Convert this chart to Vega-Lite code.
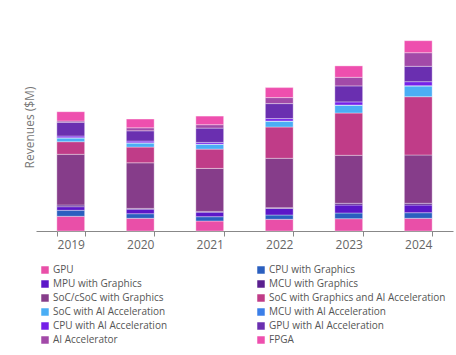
{
  "$schema": "https://vega.github.io/schema/vega-lite/v6.json",
  "width": 417,
  "height": 208,
  "autosize": {"type": "none"},
  "padding": {"left": 36, "top": 23, "right": 3, "bottom": 124},
  "background": "white",
  "config": {
    "view": {"stroke": null},
    "font": "Open Sans"
  },
  "data": {
    "values": [
      {"year": "2019", "type": "GPU", "rev": 14.7},
      {"year": "2019", "type": "CPU with Graphics", "rev": 6},
      {"year": "2019", "type": "MPU with Graphics", "rev": 3.6},
      {"year": "2019", "type": "MCU with Graphics", "rev": 1.7},
      {"year": "2019", "type": "SoC/cSoC with Graphics", "rev": 50.7},
      {"year": "2019", "type": "SoC with Graphics and AI Acceleration", "rev": 12.6},
      {"year": "2019", "type": "SoC with AI Acceleration", "rev": 3.6},
      {"year": "2019", "type": "MCU with AI Acceleration", "rev": 0.4},
      {"year": "2019", "type": "CPU with AI Acceleration", "rev": 1.7},
      {"year": "2019", "type": "GPU with AI Acceleration", "rev": 13.7},
      {"year": "2019", "type": "AI Accelerator", "rev": 1.3},
      {"year": "2019", "type": "FPGA", "rev": 9.3},
      {"year": "2020", "type": "GPU", "rev": 12.7},
      {"year": "2020", "type": "CPU with Graphics", "rev": 4.6},
      {"year": "2020", "type": "MPU with Graphics", "rev": 4.5},
      {"year": "2020", "type": "MCU with Graphics", "rev": 0.8},
      {"year": "2020", "type": "SoC/cSoC with Graphics", "rev": 45.6},
      {"year": "2020", "type": "SoC with Graphics and AI Acceleration", "rev": 15.7},
      {"year": "2020", "type": "SoC with AI Acceleration", "rev": 4.0},
      {"year": "2020", "type": "MCU with AI Acceleration", "rev": 0.3},
      {"year": "2020", "type": "CPU with AI Acceleration", "rev": 1.7},
      {"year": "2020", "type": "GPU with AI Acceleration", "rev": 10.3},
      {"year": "2020", "type": "AI Accelerator", "rev": 3.0},
      {"year": "2020", "type": "FPGA", "rev": 8.7},
      {"year": "2021", "type": "GPU", "rev": 10},
      {"year": "2021", "type": "CPU with Graphics", "rev": 4.3},
      {"year": "2021", "type": "MPU with Graphics", "rev": 4.5},
      {"year": "2021", "type": "MCU with Graphics", "rev": 0.8},
      {"year": "2021", "type": "SoC/cSoC with Graphics", "rev": 43},
      {"year": "2021", "type": "SoC with Graphics and AI Acceleration", "rev": 19.3},
      {"year": "2021", "type": "SoC with AI Acceleration", "rev": 4.7},
      {"year": "2021", "type": "MCU with AI Acceleration", "rev": 0.3},
      {"year": "2021", "type": "CPU with AI Acceleration", "rev": 1.7},
      {"year": "2021", "type": "GPU with AI Acceleration", "rev": 14.3},
      {"year": "2021", "type": "AI Accelerator", "rev": 3.4},
      {"year": "2021", "type": "FPGA", "rev": 8.6},
      {"year": "2022", "type": "GPU", "rev": 11.7},
      {"year": "2022", "type": "CPU with Graphics", "rev": 4.3},
      {"year": "2022", "type": "MPU with Graphics", "rev": 6.5},
      {"year": "2022", "type": "MCU with Graphics", "rev": 0.8},
      {"year": "2022", "type": "SoC/cSoC with Graphics", "rev": 49.4},
      {"year": "2022", "type": "SoC with Graphics and AI Acceleration", "rev": 31.3},
      {"year": "2022", "type": "SoC with AI Acceleration", "rev": 5.7},
      {"year": "2022", "type": "MCU with AI Acceleration", "rev": 0.3},
      {"year": "2022", "type": "CPU with AI Acceleration", "rev": 2.4},
      {"year": "2022", "type": "GPU with AI Acceleration", "rev": 15},
      {"year": "2022", "type": "AI Accelerator", "rev": 6},
      {"year": "2022", "type": "FPGA", "rev": 10},
      {"year": "2023", "type": "GPU", "rev": 12.3},
      {"year": "2023", "type": "CPU with Graphics", "rev": 5.7},
      {"year": "2023", "type": "MPU with Graphics", "rev": 8},
      {"year": "2023", "type": "MCU with Graphics", "rev": 1.7},
      {"year": "2023", "type": "SoC/cSoC with Graphics", "rev": 48},
      {"year": "2023", "type": "SoC with Graphics and AI Acceleration", "rev": 42.3},
      {"year": "2023", "type": "SoC with AI Acceleration", "rev": 7.7},
      {"year": "2023", "type": "MCU with AI Acceleration", "rev": 0.3},
      {"year": "2023", "type": "CPU with AI Acceleration", "rev": 3.1},
      {"year": "2023", "type": "GPU with AI Acceleration", "rev": 16},
      {"year": "2023", "type": "AI Accelerator", "rev": 8.6},
      {"year": "2023", "type": "FPGA", "rev": 11.4},
      {"year": "2024", "type": "GPU", "rev": 12.7},
      {"year": "2024", "type": "CPU with Graphics", "rev": 5.6},
      {"year": "2024", "type": "MPU with Graphics", "rev": 7.7},
      {"year": "2024", "type": "MCU with Graphics", "rev": 1.7},
      {"year": "2024", "type": "SoC/cSoC with Graphics", "rev": 48.3},
      {"year": "2024", "type": "SoC with Graphics and AI Acceleration", "rev": 58.3},
      {"year": "2024", "type": "SoC with AI Acceleration", "rev": 10.7},
      {"year": "2024", "type": "MCU with AI Acceleration", "rev": 0.3},
      {"year": "2024", "type": "CPU with AI Acceleration", "rev": 4},
      {"year": "2024", "type": "GPU with AI Acceleration", "rev": 15.4},
      {"year": "2024", "type": "AI Accelerator", "rev": 13.6},
      {"year": "2024", "type": "FPGA", "rev": 12}
    ]
  },
  "transform": [
    {"calculate": "indexof(['GPU','CPU with Graphics','MPU with Graphics','MCU with Graphics','SoC/cSoC with Graphics','SoC with Graphics and AI Acceleration','SoC with AI Acceleration','MCU with AI Acceleration','CPU with AI Acceleration','GPU with AI Acceleration','AI Accelerator','FPGA'], datum.type)", "as": "ord"}
  ],
  "mark": {"type": "bar", "stroke": "#ffffff", "strokeOpacity": 0.35, "strokeWidth": 1},
  "encoding": {
    "x": {
      "field": "year",
      "type": "ordinal",
      "scale": {"paddingInner": 0.6, "paddingOuter": 0.3},
      "axis": {
        "title": null,
        "labelAngle": 0,
        "labelFontSize": 12,
        "labelColor": "#666666",
        "tickBand": "extent",
        "tickSize": 5,
        "tickColor": "#888888",
        "domainColor": "#888888",
        "labelPadding": 3
      }
    },
    "y": {
      "field": "rev",
      "type": "quantitative",
      "stack": "zero",
      "scale": {"domain": [0, 208], "nice": false},
      "axis": {
        "title": "Revenues ($M)",
        "titleFont": "Open Sans",
        "titleFontSize": 12,
        "titleFontWeight": "normal",
        "titleColor": "#777777",
        "titlePadding": 0,
        "labels": false,
        "ticks": false,
        "domain": false,
        "grid": false
      }
    },
    "color": {
      "field": "type",
      "type": "nominal",
      "scale": {
        "domain": ["GPU","MPU with Graphics","SoC/cSoC with Graphics","SoC with AI Acceleration","CPU with AI Acceleration","AI Accelerator","CPU with Graphics","MCU with Graphics","SoC with Graphics and AI Acceleration","MCU with AI Acceleration","GPU with AI Acceleration","FPGA"],
        "range": ["#e94fa8","#5c16c8","#863d8a","#4aaef5","#7520e8","#a24aa8","#2a5fbf","#5a1f8f","#c03c88","#3b7fe8","#6a2fb0","#ee4fae"]
      },
      "legend": {
        "title": null,
        "orient": "none",
        "legendX": 4,
        "legendY": 242,
        "columns": 2,
        "columnPadding": 88,
        "rowPadding": 4,
        "symbolType": "square",
        "symbolSize": 56,
        "symbolStrokeWidth": 0,
        "symbolOpacity": 1,
        "labelFontSize": 10,
        "labelColor": "#555555",
        "labelFont": "Open Sans",
        "labelOffset": 3,
        "labelLimit": 300
      }
    },
    "order": {"field": "ord", "type": "quantitative", "sort": "ascending"}
  }
}
